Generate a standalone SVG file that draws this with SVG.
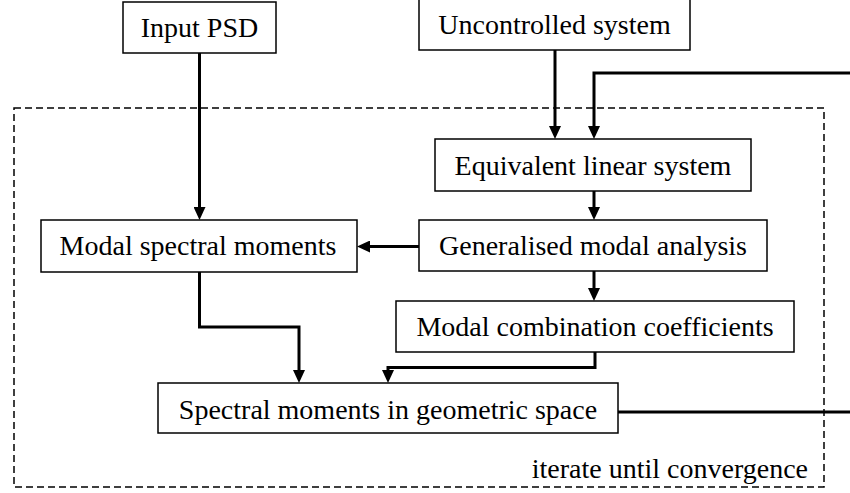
<svg xmlns="http://www.w3.org/2000/svg" width="850" height="493" viewBox="0 0 850 493">
<style>
.box{fill:#fff;stroke:#000;stroke-width:1.5}
.lbl{font-family:"Liberation Serif","Times New Roman",serif;font-size:28px;fill:#000;text-anchor:middle}
.con{fill:none;stroke:#000;stroke-width:3}
.frame{fill:none;stroke:#000;stroke-width:1.5;stroke-dasharray:7,4}
</style>
<defs>
<marker id="ah" viewBox="0 0 13 12" refX="7" refY="6" markerWidth="13" markerHeight="12" markerUnits="userSpaceOnUse" orient="auto">
<path d="M0,0 L13,6 L0,12 Z" fill="#000"/>
</marker>
</defs>
<rect class="frame" x="14" y="108" width="810" height="379"/>
<text class="lbl" x="808" y="478" style="text-anchor:end">iterate until convergence</text>
<g id="connectors">
<path class="con" d="M199.5,53 V214" marker-end="url(#ah)"/>
<path class="con" d="M555,50 V133" marker-end="url(#ah)"/>
<path class="con" d="M618,412 H860 V73 H594 V133" marker-end="url(#ah)"/>
<path class="con" d="M594,191 V214" marker-end="url(#ah)"/>
<path class="con" d="M419,246.5 H363" marker-end="url(#ah)"/>
<path class="con" d="M594,271 V295" marker-end="url(#ah)"/>
<path class="con" d="M595,352 V367.5 H388 V377" marker-end="url(#ah)"/>
<path class="con" d="M199.5,272 V327 H299 V377" marker-end="url(#ah)"/>
</g>
<g id="input-psd">
<rect class="box" x="123" y="2" width="153" height="51"/>
<text class="lbl" x="199.5" y="37">Input PSD</text>
</g>
<g id="uncontrolled-system">
<rect class="box" x="419" y="-1" width="271" height="51"/>
<text class="lbl" x="554.5" y="34">Uncontrolled system</text>
</g>
<g id="equivalent-linear-system">
<rect class="box" x="435" y="139" width="316" height="52"/>
<text class="lbl" x="593" y="175">Equivalent linear system</text>
</g>
<g id="modal-spectral-moments">
<rect class="box" x="41" y="220" width="316" height="52"/>
<text class="lbl" x="198" y="255">Modal spectral moments</text>
</g>
<g id="generalised-modal-analysis">
<rect class="box" x="419" y="220" width="348" height="51"/>
<text class="lbl" x="593" y="255">Generalised modal analysis</text>
</g>
<g id="modal-combination-coefficients">
<rect class="box" x="396" y="301" width="398" height="51"/>
<text class="lbl" x="595" y="336">Modal combination coefficients</text>
</g>
<g id="spectral-moments-geometric">
<rect class="box" x="158" y="383" width="460" height="50"/>
<text class="lbl" x="388" y="419">Spectral moments in geometric space</text>
</g>
</svg>
